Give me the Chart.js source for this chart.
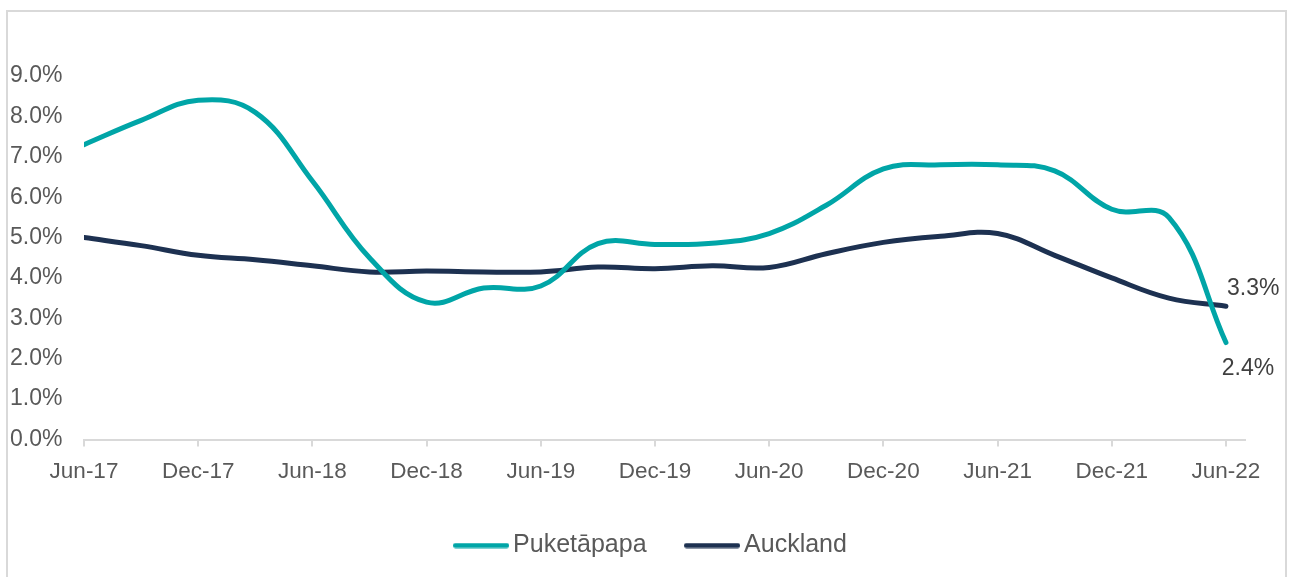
<!DOCTYPE html>
<html>
<head>
<meta charset="utf-8">
<script src="https://cdn.jsdelivr.net/npm/chart.js@4/dist/chart.umd.min.js"></script>
<style>
  html, body { margin: 0; padding: 0; background: #fff; overflow: hidden; }
  #frame {
    position: absolute; left: 6px; top: 10px; width: 1281px; height: 620px;
    border: 2px solid #d9d9d9; box-sizing: border-box;
  }
  #wrap { position: absolute; left: 0; top: 0; width: 1291px; height: 577px; }
</style>
</head>
<body>
<div id="frame"></div>
<div id="wrap"><canvas id="chart" width="1291" height="577"></canvas></div>
<script>
// quarterly, Jun-17 .. Jun-22
const quarters = ["Jun-17", "Sep-17", "Dec-17", "Mar-18", "Jun-18", "Sep-18", "Dec-18", "Mar-19",
    "Jun-19", "Sep-19", "Dec-19", "Mar-20", "Jun-20", "Sep-20", "Dec-20", "Mar-21",
    "Jun-21", "Sep-21", "Dec-21", "Mar-22", "Jun-22"];
const puketapapa = [7.3, 7.9, 8.4, 8.1, 6.4, 4.5, 3.4, 3.75, 3.8, 4.85, 4.83, 4.86, 5.1, 5.8,
    6.7, 6.8, 6.8, 6.65, 5.7, 5.5, 2.4];
const auckland = [5.0, 4.8, 4.56, 4.45, 4.3, 4.15, 4.17, 4.15, 4.15, 4.27, 4.23, 4.3, 4.26, 4.6,
    4.88, 5.03, 5.1, 4.56, 4.0, 3.5, 3.3];
const tickLabels = ["Jun-17", "Dec-17", "Jun-18", "Dec-18", "Jun-19", "Dec-19", "Jun-20",
    "Dec-20", "Jun-21", "Dec-21", "Jun-22"];

const teal = "#00a5a7";
const navy = "#1d3151";
const font = "'Liberation Sans', Arial, sans-serif";

// months since Jun-17 for each quarter
const toPoints = (vals) => vals.map((v, i) => ({ x: i * 3, y: v }));

// legend swatch: a round-capped line a bit wider than the legend box
const swatch = (col) => {
    const c = document.createElement("canvas");
    c.width = 56;
    c.height = 6;
    const g = c.getContext("2d");
    g.strokeStyle = col;
    g.lineWidth = 5;
    g.lineCap = "round";
    g.beginPath();
    g.moveTo(2.5, 3);
    g.lineTo(53.5, 3);
    g.stroke();
    return c;
};

const lastLabels = {
    id: "lastLabels",
    afterDatasetsDraw(chart) {
        const ctx = chart.ctx;
        ctx.save();
        ctx.font = "23px " + font;
        ctx.fillStyle = "#404040";
        ctx.textBaseline = "middle";
        chart.data.datasets.forEach((ds, i) => {
            const pts = chart.getDatasetMeta(i).data;
            const p = pts[pts.length - 1];
            const v = ds.data[ds.data.length - 1].y;
            const txt = v.toFixed(1) + "%";
            if (ds.label === "Auckland") {
                ctx.textAlign = "left";
                ctx.fillText(txt, p.x + 1, p.y - 18);
            } else {
                ctx.textAlign = "center";
                ctx.fillText(txt, p.x + 22, p.y + 26);
            }
        });
        ctx.restore();
    }
};

new Chart(document.getElementById("chart"), {
    type: "line",
    data: {
        datasets: [{
            label: "Puketāpapa",
            data: toPoints(puketapapa),
            borderColor: teal,
            backgroundColor: teal,
            borderWidth: 5,
            borderCapStyle: "round",
            pointRadius: 0,
            pointStyle: swatch(teal),
            tension: 0.4
        }, {
            label: "Auckland",
            data: toPoints(auckland),
            borderColor: navy,
            backgroundColor: navy,
            borderWidth: 5,
            borderCapStyle: "round",
            pointRadius: 0,
            pointStyle: swatch(navy),
            tension: 0.4
        }]
    },
    options: {
        responsive: false,
        animation: false,
        layout: {
            padding: { left: 63.5, right: 46, top: 76, bottom: 9 }
        },
        scales: {
            x: {
                type: "linear",
                min: 0,
                max: 61,
                afterBuildTicks: (axis) => {
                    axis.ticks = tickLabels.map((t, i) => ({ value: i * 6 }));
                },
                afterFit: (axis) => { axis.height = 47.5; },
                ticks: {
                    callback: (v, i) => tickLabels[i],
                    color: "#595959",
                    font: { family: font, size: 22.5 },
                    maxRotation: 0,
                    padding: 12
                },
                grid: {
                    drawOnChartArea: false,
                    drawTicks: true,
                    tickLength: 7,
                    color: "#d9d9d9",
                    lineWidth: 2
                },
                border: { color: "#d9d9d9", width: 2 }
            },
            y: {
                min: 0,
                max: 9,
                afterFit: (axis) => { axis.width = 20.5; },
                ticks: {
                    stepSize: 1,
                    callback: (v) => v.toFixed(1) + "%",
                    color: "#595959",
                    font: { family: font, size: 23 },
                    // mirrored so the labels are not clipped to the narrow axis box
                    mirror: true,
                    padding: -74
                },
                grid: { display: false },
                border: { display: false }
            }
        },
        plugins: {
            legend: {
                position: "bottom",
                labels: {
                    usePointStyle: true,
                    pointStyleWidth: 39,
                    color: "#595959",
                    font: { family: font, size: 25 },
                    padding: 46
                }
            },
            tooltip: { enabled: false }
        }
    },
    plugins: [lastLabels]
});
</script>
</body>
</html>
